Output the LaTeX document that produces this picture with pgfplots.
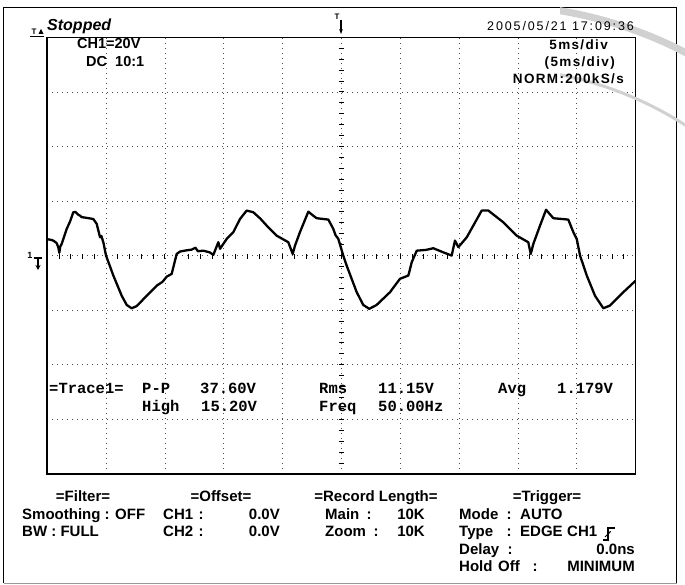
\documentclass[border=0pt]{standalone}
\usepackage{pgfplots}
\pgfplotsset{compat=1.18}
\usepackage{pgfplotstable}
\usetikzlibrary{arrows.meta}
\usepackage{fontspec}
\setmainfont{Liberation Sans}
\newfontfamily\monofont{Liberation Mono}
\newfontfamily\spacedfont[LetterSpace=15]{Liberation Sans}
\newfontfamily\hdrfont[LetterSpace=10]{Liberation Sans}

\newcommand\menu{\fontsize{15}{17}\selectfont\bfseries}
\newcommand\meas{\fontsize{15.5}{17}\selectfont\monofont\bfseries}
\newcommand\hdr{\fontsize{13.5}{15}\selectfont\hdrfont\bfseries}

% CH1 trace: time in ms, voltage in V (20 V/div, 5 ms/div)
\pgfplotstableread{
t v
0.00 6.0
0.30 5.8
0.52 5.5
0.80 4.6
0.94 3.1
1.03 1.0
1.10 3.2
1.23 4.3
1.66 9.8
1.95 12.6
2.22 15.9
2.40 16.0
2.64 15.0
2.80 14.6
2.93 14.1
3.40 13.8
3.92 13.4
4.21 11.6
4.49 6.7
4.60 7.2
4.77 4.9
5.00 0.0
5.62 -7.3
6.33 -14.7
6.76 -18.1
7.18 -19.3
7.61 -18.5
8.46 -14.7
9.31 -11.0
9.80 -9.6
10.16 -7.7
10.58 -6.7
10.72 -4.3
11.00 0.6
11.29 1.5
11.80 1.9
12.28 2.2
12.60 2.9
12.80 1.6
13.27 1.8
13.80 1.2
14.12 0.3
14.54 4.9
14.69 2.5
15.25 6.1
15.82 8.6
16.38 13.4
16.95 16.5
17.51 15.9
18.10 13.6
18.65 11.0
19.50 7.3
20.49 4.9
20.86 0.6
21.06 3.7
21.48 8.6
22.19 16.1
22.50 15.0
22.90 13.7
23.89 13.2
24.31 9.8
24.50 7.5
24.74 6.1
25.16 0.0
25.45 -3.7
26.30 -13.4
26.86 -18.1
27.37 -19.5
27.99 -18.1
29.13 -13.4
29.98 -8.5
30.69 -7.3
30.98 -2.4
31.40 1.8
32.20 2.1
32.81 2.7
33.66 1.2
34.37 0.0
34.65 5.5
34.94 3.1
35.65 6.7
36.21 11.0
36.92 16.5
37.49 16.5
38.76 12.2
39.90 7.3
40.88 4.9
41.09 0.6
41.31 4.3
41.88 11.0
42.39 16.8
43.01 13.7
44.28 13.2
44.71 8.6
45.00 6.1
45.28 0.0
45.85 -7.3
46.55 -14.7
47.26 -19.3
47.83 -18.3
48.96 -13.4
50.00 -9.2
}\trace

\begin{document}
\begin{tikzpicture}
\begin{axis}[
    at={(47.2pt,-473.9pt)}, anchor=south west,
    width=588.4pt, height=436.6pt, scale only axis,
    xmin=0, xmax=50, ymin=-80, ymax=80,
    xtick={5,10,...,45}, ytick={-60,-40,...,60},
    xticklabels={}, yticklabels={},
    major tick length=0pt,
    grid=major,
    grid style={black!70, line width=0.7pt, dash pattern=on 0.8pt off 4.2pt},
    axis line style={line width=1.5pt},
]
\addplot[black, line width=2.3pt, line join=round] table[x=t,y=v] {\trace};
\end{axis}

\begin{scope}[x=1pt,y=-1pt,every node/.style={inner sep=0pt}]
\path[use as bounding box] (0,0) rectangle (685,585);
% outer frame
\draw[line width=1.5pt] (3.5,583) -- (3.5,7.5) -- (676.5,7.5) -- (676.5,583);
\draw[line width=0.8pt, black!40] (3.5,583) -- (676.5,583);
% watermark
\begin{scope}
\clip (560,0) rectangle (685,140);
\draw[black!18, line width=7pt] (490,430) circle (425pt);
\draw[black!18, line width=3pt] (490,430) circle (362pt);
\end{scope}
% centre graticule ticks
\foreach \i in {1,...,49} \draw[line width=0.9pt] ({47.2+\i*11.768},254.2) -- ++(0,5);
\foreach \i in {1,...,39} \draw[line width=0.9pt] (339.2,{37.3+\i*10.915}) -- ++(4.4,0);
% markers
\node[anchor=mid] at (30,256) {\fontsize{9}{9}\selectfont\bfseries 1};
\draw[line width=1.2pt] (34,258) -- (42,258);
\draw[line width=1.4pt,-{Stealth[length=5pt,width=5pt]}] (38,258) -- (38,270);
\node[anchor=mid] at (337,17) {\fontsize{8}{8}\selectfont\bfseries T};
\draw[line width=1.2pt,-{Stealth[length=5pt]}] (341,20) -- (341,34);
\node[anchor=mid] at (34,32) {\fontsize{8}{8}\selectfont\bfseries T};
\fill (38.5,34) -- (41,29) -- (43.5,34) -- cycle;
\draw[line width=0.8pt] (30,36.5) -- (44,36.5);
% header
\node[anchor=mid west] at (47,28) {\fontsize{16}{18}\selectfont\bfseries\itshape Stopped};
\node[anchor=mid west] at (77,46) {\fontsize{14.5}{16}\selectfont\bfseries CH1=20V};
\node[anchor=mid west] at (86,64) {\fontsize{14.5}{16}\selectfont\bfseries DC};
\node[anchor=mid west] at (115,64) {\fontsize{14.5}{16}\selectfont\bfseries 10:1};
\node[anchor=mid east] at (634,28) {\fontsize{12.5}{15}\selectfont\spacedfont 2005/05/21 17:09:36};
\node[anchor=mid east] at (608,47) {\hdr 5ms/div};
\node[anchor=mid east] at (615,64) {\hdr (5ms/div)};
\node[anchor=mid east] at (624,81) {\hdr NORM:200kS/s};
% measurements
\node[anchor=mid west] at (49,391) {\meas =Trace1=};
\node[anchor=mid west] at (142,391) {\meas P-P};
\node[anchor=mid west] at (200,391) {\meas 37.60V};
\node[anchor=mid west] at (319,391) {\meas Rms};
\node[anchor=mid west] at (378,391) {\meas 11.15V};
\node[anchor=mid west] at (498,391) {\meas Avg};
\node[anchor=mid west] at (557,391) {\meas 1.179V};
\node[anchor=mid west] at (142,409) {\meas High};
\node[anchor=mid west] at (201,409) {\meas 15.20V};
\node[anchor=mid west] at (319,409) {\meas Freq};
\node[anchor=mid west] at (378,409) {\meas 50.00Hz};
% settings panel
\node[anchor=mid] at (83,499) {\menu =Filter=};
\node[anchor=mid] at (221,499) {\menu =Offset=};
\node[anchor=mid] at (376,499) {\menu =Record Length=};
\node[anchor=mid] at (547,499) {\menu =Trigger=};
\node[anchor=mid west] at (22,517) {\menu Smoothing : OFF};
\node[anchor=mid west] at (163,517) {\menu CH1};
\node[anchor=mid] at (201,517) {\menu :};
\node[anchor=mid east] at (280,517) {\menu 0.0V};
\node[anchor=mid west] at (325,517) {\menu Main};
\node[anchor=mid] at (369,517) {\menu :};
\node[anchor=mid east] at (425,517) {\menu 10K};
\node[anchor=mid west] at (459,517) {\menu Mode};
\node[anchor=mid] at (509,517) {\menu :};
\node[anchor=mid west] at (520,517) {\menu AUTO};
\node[anchor=mid west] at (22,534) {\menu BW : FULL};
\node[anchor=mid west] at (163,534) {\menu CH2};
\node[anchor=mid] at (201,534) {\menu :};
\node[anchor=mid east] at (280,534) {\menu 0.0V};
\node[anchor=mid west] at (325,534) {\menu Zoom};
\node[anchor=mid] at (376,534) {\menu :};
\node[anchor=mid east] at (425,534) {\menu 10K};
\node[anchor=mid west] at (459,534) {\menu Type};
\node[anchor=mid] at (509,534) {\menu :};
\node[anchor=mid west] at (520,534) {\menu EDGE};
\node[anchor=mid west] at (567,534) {\menu CH1};
\draw[line width=1.2pt] (603,540) -- (608,540) -- (608,528) -- (615,528);
\draw[line width=1pt,-{Stealth[length=3pt]}] (605,537) -- (611,531);
\node[anchor=mid west] at (459,551.5) {\menu Delay};
\node[anchor=mid] at (510,551.5) {\menu :};
\node[anchor=mid east] at (635,551.5) {\menu 0.0ns};
\node[anchor=mid west] at (459,569) {\menu Hold};
\node[anchor=mid west] at (498,569) {\menu Off};
\node[anchor=mid] at (535,569) {\menu :};
\node[anchor=mid east] at (635,569) {\menu MINIMUM};
\end{scope}
\end{tikzpicture}
\end{document}
